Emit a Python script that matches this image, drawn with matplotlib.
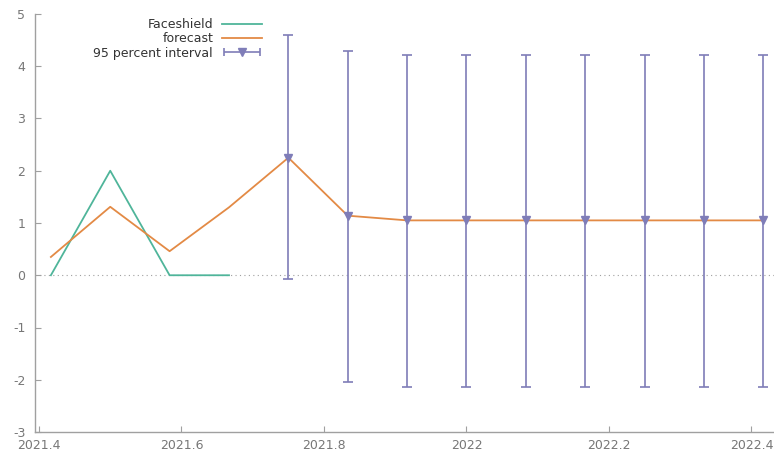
import matplotlib
matplotlib.use("Agg")
import matplotlib.pyplot as plt
from matplotlib.legend_handler import HandlerErrorbar
import numpy as np

plt.rcParams['axes.unicode_minus'] = False

# monthly observations, gretl-style decimal dates
x_obs = [2021.4167, 2021.5, 2021.5833, 2021.6667]
faceshield = [0, 2, 0, 0]

x_fc = [2021.4167, 2021.5, 2021.5833, 2021.6667, 2021.75, 2021.8333, 2021.9167,
        2022.0, 2022.0833, 2022.1667, 2022.25, 2022.3333, 2022.4167]
forecast = [0.35, 1.31, 0.46, 1.30, 2.25, 1.14, 1.05, 1.05, 1.05, 1.05, 1.05, 1.05, 1.05]

x_int = x_fc[4:]
fc_int = forecast[4:]
lower = [-0.08, -2.04, -2.13, -2.13, -2.13, -2.13, -2.13, -2.13, -2.13]
upper = [4.59, 4.30, 4.22, 4.22, 4.22, 4.22, 4.22, 4.22, 4.22]

TEAL = '#4fb59a'
ORANGE = '#e38a45'
PURPLE = '#7f7db8'
GREY = '#a0a0a0'

fig = plt.figure(figsize=(7.74, 4.53), dpi=100, facecolor='w')
ax = fig.add_axes([35 / 774, 21 / 453, 739 / 774, 418 / 453])

ax.axhline(0, color=GREY, lw=0.8, ls=(0, (1, 3)), zorder=1)

ax.plot(x_obs, faceshield, color=TEAL, lw=1.3, label='Faceshield', zorder=3)
ax.plot(x_fc, forecast, color=ORANGE, lw=1.3, label='forecast', zorder=3)

yerr = [np.subtract(fc_int, lower), np.subtract(upper, fc_int)]
ax.errorbar(x_int, fc_int, yerr=yerr, fmt='v', color=PURPLE, ms=5.5,
            elinewidth=1.2, capsize=3.5, capthick=1.2, zorder=4)
# dummy horizontal errorbar only for the legend entry
ax.errorbar([np.nan], [np.nan], xerr=[1], fmt='v', color=PURPLE, ms=5.5,
            elinewidth=1.2, capsize=3, capthick=1.2, label='95 percent interval')

ax.set_xlim(2021.3944, 2022.4316)
ax.set_ylim(-3, 5)
ax.set_xticks([2021.4, 2021.6, 2021.8, 2022.0, 2022.2, 2022.4])
ax.set_xticklabels(['2021.4', '2021.6', '2021.8', '2022', '2022.2', '2022.4'])
ax.set_yticks(range(-3, 6))

for spine in ('top', 'right'):
    ax.spines[spine].set_visible(False)
for spine in ('left', 'bottom'):
    ax.spines[spine].set_color(GREY)
    ax.spines[spine].set_linewidth(1.0)
ax.tick_params(direction='in', length=4, color=GREY, labelcolor='#777777', labelsize=9)
ax.tick_params(axis='y', pad=7)
ax.tick_params(axis='x', pad=5)

legend = ax.legend(loc='upper right', bbox_to_anchor=(0.307, 0.99), frameon=False,
                   markerfirst=False, fontsize=9, handlelength=3.2, handletextpad=0.7,
                   labelspacing=0.1, borderpad=0, borderaxespad=0,
                   handler_map={type(ax.containers[-1]): HandlerErrorbar(xerr_size=1.45)})
for txt in legend.get_texts():
    txt.set_color('#333333')

fig.savefig('out.png', dpi=100)
